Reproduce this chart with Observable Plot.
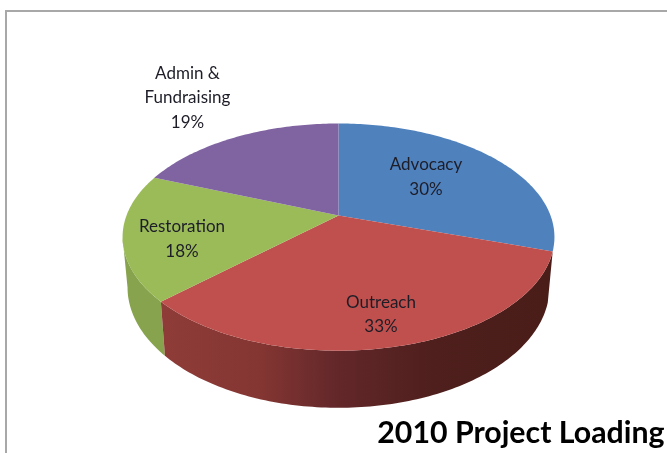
<!DOCTYPE html>
<html>
<head>
<meta charset="utf-8">
<style>html,body{margin:0;padding:0;background:#fff}svg{display:block;filter:blur(0.4px)}</style>
<script src="https://cdn.jsdelivr.net/npm/d3@7"></script>
<script src="https://cdn.jsdelivr.net/npm/@observablehq/plot@0.6"></script>
</head>
<body>
<div id="chart"></div>
<script>
// ---- data ----
const categories = ["Advocacy", "Outreach", "Restoration", "Admin & Fundraising"];
const shares = [30, 33, 18, 19];
const sliceColors = ["#4F81BD", "#C0504D", "#9BBB59", "#8064A2"];
const labelLines = [["Advocacy", "30%"], ["Outreach", "33%"], ["Restoration", "18%"], ["Admin &", "Fundraising", "19%"]];
const chartTitle = "2010 Project Loading";

// ---- perspective pie geometry (screen units of the x / y scales) ----
const W = 667, H = 453;
const cx = 338, cy = 215, R = 212, V = 109.5, k = 0.19;      // top face
const base = {sx: 0.977, sy: 1.06, cy: 264};                 // lower rim
const top3d = t => {
  const u = Math.sin(t), v = Math.cos(t), s = 1 / (1 + k * v);
  return {x: cx + R * u * s, y: cy - V * v * s};
};
const low3d = t => {
  const u = Math.sin(t), v = Math.cos(t), s = 1 / (1 + k * v);
  return {x: cx + base.sx * R * u * s, y: base.cy - base.sy * V * v * s};
};
const rad = d => d * Math.PI / 180;
const arc = (fn, a, b) => {
  const n = Math.max(2, Math.ceil(Math.abs(b - a) / rad(1)));
  return d3.range(n + 1).map(i => fn(a + (b - a) * i / n));
};

let acc = 0;
const total = d3.sum(shares);
const slices = categories.map((name, i) => {
  const a = acc / total * 2 * Math.PI;
  acc += shares[i];
  const b = acc / total * 2 * Math.PI;
  return {name, a, b};
});

const topFaces = slices.flatMap(s =>
  [{x: cx, y: cy}, ...arc(top3d, s.a, s.b)].map(p => ({...p, name: s.name})));

const sideOf = (s, from, to) => {
  const a = Math.max(s.a, from), b = Math.min(s.b, to);
  return [...arc(top3d, a, b), ...arc(low3d, b, a)];
};
const visibleFrom = rad(101), visibleTo = rad(259);
const redSide = sideOf(slices[1], visibleFrom, visibleTo);
const greenSide = sideOf(slices[2], visibleFrom, visibleTo);

// text placement in the chart
const labelCentres = [[425.5, 176.5], [380.5, 314], [181.5, 238.5], [187, 97.5]];
const lineGap = 24.5;
const labelRows = labelLines.flatMap((lines, i) =>
  lines.map((text, j) => ({
    text,
    x: labelCentres[i][0],
    y: labelCentres[i][1] + (j - (lines.length - 1) / 2) * lineGap
  })));

const gradient = () => {
  const ns = "http://www.w3.org/2000/svg";
  const defs = document.createElementNS(ns, "defs");
  const g = document.createElementNS(ns, "linearGradient");
  g.setAttribute("id", "redSide");
  g.setAttribute("x1", "0"); g.setAttribute("x2", "1");
  g.setAttribute("y1", "0"); g.setAttribute("y2", "0");
  [[0, "#8F3C38"], [0.25, "#843632"], [0.45, "#63272A"], [0.7, "#4E1F1C"], [1, "#4A1D19"]].forEach(([o, c]) => {
    const st = document.createElementNS(ns, "stop");
    st.setAttribute("offset", o);
    st.setAttribute("stop-color", c);
    g.appendChild(st);
  });
  defs.appendChild(g);
  return defs;
};

const font = "Lato, 'Open Sans', sans-serif";
const chart = Plot.plot({
  width: W,
  height: H,
  marginTop: 10.5,
  marginLeft: 5.5,
  marginRight: 0,
  marginBottom: 0,
  style: {background: "#fff", fontFamily: font},
  x: {domain: [5.5, W], axis: null},
  y: {domain: [H, 10.5], axis: null},
  color: {domain: categories, range: sliceColors},
  marks: [
    gradient,
    Plot.frame({anchor: "top", stroke: "#a8a8a8", strokeWidth: 2}),
    Plot.frame({anchor: "left", stroke: "#a8a8a8", strokeWidth: 2}),
    Plot.line(greenSide, {x: "x", y: "y", fill: "#87A34E", stroke: "none"}),
    Plot.line(redSide, {x: "x", y: "y", fill: "url(#redSide)", stroke: "none"}),
    Plot.line(topFaces, {x: "x", y: "y", z: "name", fill: "name", stroke: "none"}),
    Plot.text(labelRows, {x: "x", y: "y", text: "text", fontSize: 17, fill: "#1d1d28", fontFamily: font}),
    Plot.text([chartTitle], {x: [664], y: [433], text: d => d, textAnchor: "end", fontSize: 30.3, fontWeight: 700, fill: "#000", fontFamily: font})
  ]
});
document.getElementById("chart").appendChild(chart);
</script>
</body>
</html>
